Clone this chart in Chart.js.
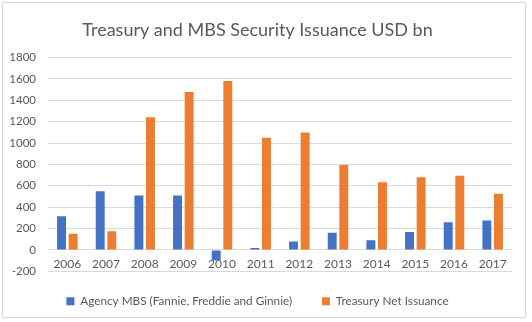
<!DOCTYPE html>
<html>
<head>
<meta charset="utf-8">
<script src="https://cdn.jsdelivr.net/npm/chart.js@4/dist/chart.umd.min.js"></script>
<style>
  html, body { margin: 0; padding: 0; background: #fff; }
  #box {
    position: absolute; left: 2px; top: 2px;
    width: 522px; height: 314px;
    border: 1px solid #d9d9d9;
  }
</style>
</head>
<body>
<div id="box"><canvas id="chartIssuance"></canvas></div>
<script>
const years = ["2006", "2007", "2008", "2009", "2010", "2011", "2012", "2013", "2014", "2015", "2016", "2017"];
const agencyMbs = [315, 550, 510, 510, -100, 18, 78, 160, 90, 168, 258, 275];
const treasuryNet = [152, 175, 1242, 1477, 1580, 1050, 1100, 795, 632, 680, 695, 525];
const yMin = -200, yMax = 1800, yStep = 200;

const BLUE = "#4472c4";
const ORANGE = "#ed7d31";
const TEXT = "#595959";
const GRID = "#d9d9d9";
const FONT = "Lato, 'Open Sans', sans-serif";

document.addEventListener("DOMContentLoaded", () => {
    const c = document.getElementById("chartIssuance");
    new Chart(c, {
        type: "bar",
        data: {
            labels: years,
            datasets: [
                { label: "Agency MBS (Fannie, Freddie and Ginnie)", data: agencyMbs, backgroundColor: BLUE,
                  categoryPercentage: 0.6, barPercentage: 0.77 },
                { label: "Treasury Net Issuance", data: treasuryNet, backgroundColor: ORANGE,
                  categoryPercentage: 0.6, barPercentage: 0.77 },
            ],
        },
        options: {
            responsive: true, maintainAspectRatio: false, animation: false,
            layout: { padding: { left: 0, right: 13, top: 0, bottom: 0 } },
            scales: {
                x: {
                    position: { y: 0 },
                    grid: { display: false, drawTicks: false },
                    border: { display: false },
                    ticks: { color: TEXT, font: { family: FONT, size: 12 }, padding: 7, maxRotation: 0 },
                },
                y: {
                    min: yMin, max: yMax,
                    grid: { color: GRID, drawTicks: false },
                    border: { display: false },
                    ticks: { stepSize: yStep, color: TEXT, font: { family: FONT, size: 11.5 }, padding: 12,
                             callback: v => String(v) },
                    afterFit: s => { s.width = 45; },
                },
            },
            plugins: {
                title: {
                    display: true,
                    text: "Treasury and MBS Security Issuance USD bn",
                    color: TEXT,
                    font: { family: FONT, size: 18, weight: "normal" },
                    padding: { top: 16, bottom: 17 },
                },
                legend: {
                    position: "bottom",
                    labels: {
                        color: TEXT, font: { family: FONT, size: 11.75 }, boxWidth: 8, boxHeight: 8, padding: 24,
                        // a little extra room after the first entry, as in the original legend
                        generateLabels: chart => Chart.defaults.plugins.legend.labels.generateLabels(chart)
                            .map((l, i) => i === 0 ? { ...l, text: l.text + "\u2002" } : l),
                    },
                },
                tooltip: { enabled: false },
            },
        },
    });
});
</script>
</body>
</html>
